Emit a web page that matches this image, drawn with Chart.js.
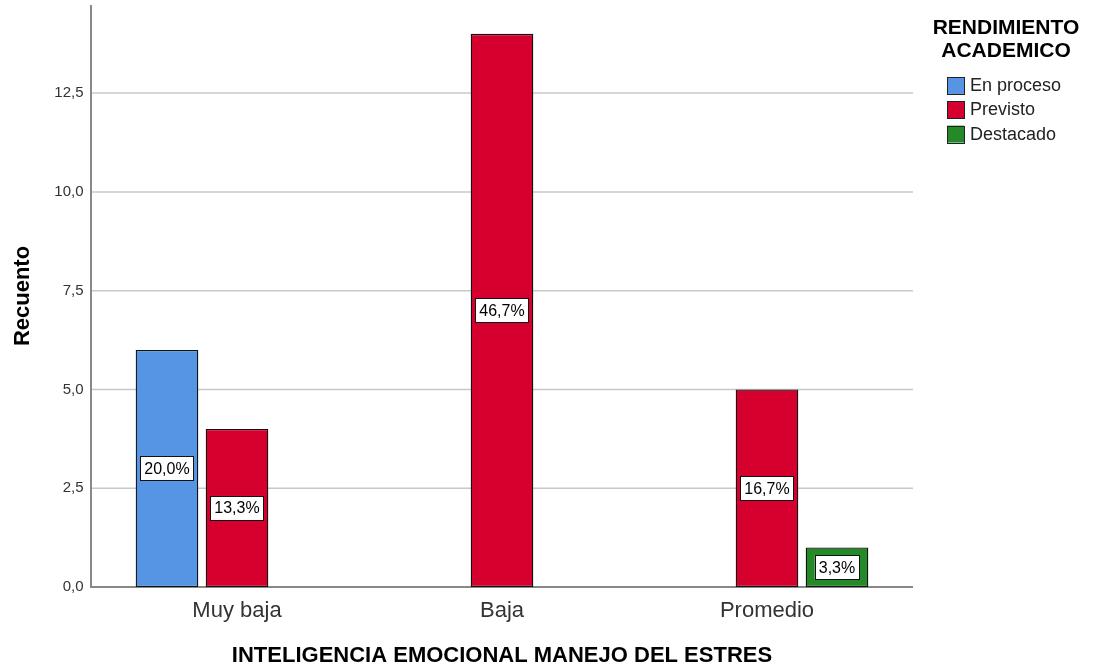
<!DOCTYPE html>
<html>
<head>
<meta charset="utf-8">
<script src="https://cdn.jsdelivr.net/npm/chart.js@4.4.1/dist/chart.umd.min.js"></script>
<style>
  body { margin: 0; background: #fff; }
</style>
</head>
<body>
<canvas id="myChart" width="1094" height="670"></canvas>
<script>
// data (counts)
const categories = ['Muy baja', 'Baja', 'Promedio'];
const seriesNames = ['En proceso', 'Previsto', 'Destacado'];
const enProceso = [6, null, null];
const previsto = [4, 14, 5];
const destacado = [null, null, 1];
const yTicks = [0, 2.5, 5, 7.5, 10, 12.5];
const yMax = 14.73;
const legendTitle = ['RENDIMIENTO', 'ACADEMICO'];
const xTitle = 'INTELIGENCIA EMOCIONAL MANEJO DEL ESTRES';
const yTitle = 'Recuento';

const family = "'Liberation Sans', Arial, sans-serif";
const colors = ['#5595e4', '#d5002e', '#248a28'];
const fmt = (v, d) => v.toFixed(d).replace('.', ',');
const total = [enProceso, previsto, destacado].flat().reduce((s, v) => s + (v || 0), 0);

// gridlines + axis lines, a bit wider than the bar area like SPSS does
const axesPlugin = {
  id: 'axesLines',
  beforeDatasetsDraw(chart) {
    const { ctx, chartArea: a, scales: { y } } = chart;
    const x0 = a.left - 13.5, x1 = a.right + 13.5;
    ctx.save();
    ctx.strokeStyle = '#c8c8c8';
    ctx.lineWidth = 1.5;
    yTicks.forEach(v => {
      if (v === 0) return;
      const py = y.getPixelForValue(v);
      ctx.beginPath();
      ctx.moveTo(x0, py);
      ctx.lineTo(x1, py);
      ctx.stroke();
    });
    ctx.strokeStyle = '#888';
    ctx.lineWidth = 2;
    ctx.beginPath();
    ctx.moveTo(x0, a.top);
    ctx.lineTo(x0, a.bottom);
    ctx.lineTo(x1, a.bottom);
    ctx.stroke();
    ctx.restore();
  }
};

// percentage boxes in the middle of each bar
const labelsPlugin = {
  id: 'pctLabels',
  afterDatasetsDraw(chart) {
    const { ctx } = chart;
    ctx.save();
    ctx.font = '16px ' + family;
    ctx.textAlign = 'center';
    ctx.textBaseline = 'middle';
    chart.data.datasets.forEach((ds, i) => {
      chart.getDatasetMeta(i).data.forEach((bar, j) => {
        const v = ds.data[j];
        if (v == null) return;
        const txt = fmt(v / total * 100, 1) + '%';
        const cy = (bar.y + bar.base) / 2;
        const w = ctx.measureText(txt).width + 8, h = 24;
        ctx.fillStyle = '#fff';
        ctx.fillRect(bar.x - w / 2, cy - h / 2, w, h);
        ctx.strokeStyle = '#111';
        ctx.lineWidth = 1;
        ctx.strokeRect(Math.round(bar.x - w / 2) + 0.5, Math.round(cy - h / 2) + 0.5, Math.round(w), h);
        ctx.fillStyle = '#000';
        ctx.fillText(txt, bar.x, cy + 1);
      });
    });
    ctx.restore();
  }
};

// SPSS style legend on the right
const legendPlugin = {
  id: 'sideLegend',
  afterDraw(chart) {
    const { ctx } = chart;
    ctx.save();
    ctx.fillStyle = '#000';
    ctx.font = 'bold 21px ' + family;
    ctx.textAlign = 'center';
    ctx.textBaseline = 'middle';
    legendTitle.forEach((t, i) => ctx.fillText(t, 1006, 28 + i * 23));
    ctx.font = '18px ' + family;
    ctx.textAlign = 'left';
    chart.data.datasets.forEach((ds, i) => {
      const top = 77 + i * 24.3;
      ctx.fillStyle = ds.backgroundColor;
      ctx.fillRect(947, top, 17, 17);
      ctx.strokeStyle = '#222';
      ctx.lineWidth = 1;
      ctx.strokeRect(947.5, Math.round(top) + 0.5, 17, 17);
      ctx.fillStyle = '#222';
      ctx.fillText(ds.label, 970, top + 9);
    });
    ctx.restore();
  }
};

const mkSet = (i, data) => ({
  label: seriesNames[i],
  data: data,
  backgroundColor: colors[i],
  borderColor: '#111',
  borderWidth: 1.3,
  borderSkipped: false,
  barPercentage: 0.895,
  categoryPercentage: 0.7925
});

new Chart(document.getElementById('myChart'), {
  type: 'bar',
  data: {
    labels: categories,
    datasets: [mkSet(0, enProceso), mkSet(1, previsto), mkSet(2, destacado)]
  },
  options: {
    responsive: false,
    animation: false,
    layout: { padding: { top: 5, right: 194.5, left: 0, bottom: 0 } },
    plugins: { legend: { display: false }, tooltip: { enabled: false } },
    scales: {
      x: {
        afterFit: s => { s.height = 83; s.paddingLeft = 0; s.paddingRight = 0; },
        grid: { display: false, drawTicks: false },
        border: { display: false },
        ticks: { padding: 11, color: '#333', font: { size: 22, family } },
        title: { display: true, text: xTitle, color: '#000', font: { size: 22, weight: 'bold', family }, padding: { top: 0, bottom: 1 } }
      },
      y: {
        min: 0,
        max: yMax,
        afterBuildTicks: s => { s.ticks = yTicks.map(v => ({ value: v })); },
        afterFit: s => { s.width = 104.5; s.paddingTop = 0; s.paddingBottom = 0; },
        grid: { display: false, drawTicks: false },
        border: { display: false },
        ticks: { padding: 21, color: '#333', font: { size: 15, family }, callback: v => fmt(v, 1) },
        title: { display: true, text: yTitle, color: '#000', font: { size: 22, weight: 'bold', family }, padding: { top: 10, bottom: 0 } }
      }
    }
  },
  plugins: [axesPlugin, labelsPlugin, legendPlugin]
});
</script>
</body>
</html>
